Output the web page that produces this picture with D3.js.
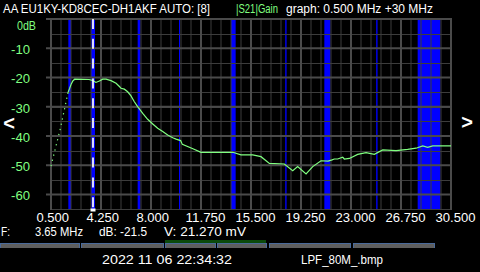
<!DOCTYPE html>
<html>
<head>
<meta charset="utf-8">
<script src="https://cdn.jsdelivr.net/npm/d3@7"></script>
<style>
  body { margin: 0; background: #000; }
  svg { display: block; }
  text { font-family: "Liberation Sans", Arial, sans-serif; }
</style>
</head>
<body>
<div id="chart"></div>
<script>
// S21 gain sweep (frequency in MHz, gain in dB)
var freq = [0.50, 1.20, 1.78, 1.90, 2.02, 2.15, 2.28, 3.35, 3.65, 3.87, 4.13, 4.38, 4.63,
            5.00, 5.38, 5.63, 5.75, 6.00, 6.25, 6.50, 6.75, 7.00, 7.38, 7.75, 8.13, 8.50,
            8.88, 9.25, 9.63, 9.88, 10.22, 10.35, 11.10, 11.75, 12.63, 14.13, 14.75,
            15.63, 16.25, 16.88, 18.00, 18.63, 19.00, 19.63, 20.13, 20.75, 21.28, 21.58,
            21.75, 22.00, 22.38, 22.50, 22.88, 23.50, 24.13, 24.75, 25.38, 26.38, 27.25,
            27.88, 28.38, 28.75, 29.13, 29.38, 30.50];
var gain = [-50.3, -37.5, -25.1, -23.7, -22.2, -21.1, -20.6, -20.7, -21.1, -21.7, -21.2,
            -20.6, -20.6, -21.1, -22.0, -23.1, -23.7, -24.0, -24.9, -26.3, -28.3, -30.0,
            -32.3, -34.3, -35.9, -37.4, -38.5, -39.7, -40.6, -41.1, -41.6, -42.9, -44.3,
            -45.6, -45.6, -45.6, -46.5, -46.5, -47.1, -49.4, -49.6, -51.9, -50.5, -53.0,
            -50.5, -48.5, -48.6, -48.2, -47.9, -47.9, -47.3, -47.9, -47.7, -46.3, -45.7,
            -46.3, -44.8, -45.0, -44.6, -44.2, -43.4, -43.9, -43.4, -43.4, -43.4];
var dottedUntil = 2; // the steep start is only drawn as loose dots

// amateur band segments shaded in blue (MHz)
var bandLo = [1.8, 3.5, 7.0, 10.1, 14.0, 18.068, 21.0, 24.89, 28.0];
var bandHi = [2.0, 3.8, 7.2, 10.15, 14.35, 18.168, 21.45, 24.99, 29.7];

var xTicks = [0.5, 4.25, 8, 11.75, 15.5, 19.25, 23, 26.75, 30.5];
var xLabels = ["0.500", "4.250", "8.000", "11.750", "15.500", "19.250", "23.000", "26.750", "30.500"];
var yTicks = [0, -10, -20, -30, -40, -50, -60];
var yLabels = ["0dB", "-10", "-20", "-30", "-40", "-50", "-60"];

var markerFreq = 3.65;
var markerText = ["F:", "3.65 MHz", "dB: -21.5", "V: 21.270 mV"];

var W = 480, H = 272;
var svg = d3.select("#chart").append("svg")
    .attr("width", W)
    .attr("height", H)
    .style("background", "#000");

var x = d3.scaleLinear().domain([0.5, 30.5]).range([51, 451]);
var y = d3.scaleLinear().domain([0, -65]).range([19, 209]);

var green = "#80ff80";

// the screen font is narrower than anything installed, so squeeze to measured widths
function label(sel, px, len) {
  sel.style("font-size", px + "px");
  if (len) sel.attr("textLength", len).attr("lengthAdjust", "spacingAndGlyphs");
  return sel;
}

// band shading
svg.append("g").selectAll("rect")
  .data(bandLo)
  .enter().append("rect")
    .attr("x", function(d) { return x(d); })
    .attr("y", y(0))
    .attr("width", function(d, i) { return Math.max(1, x(bandHi[i]) - x(d)); })
    .attr("height", y(-65) - y(0))
    .attr("fill", "#0000ff");

// minor grid: every 0.75 MHz and every 5 dB
var grid = svg.append("g");
grid.selectAll("line.vmin")
  .data(d3.range(0, 41).map(function(i) { return 0.5 + i * 0.75; }))
  .enter().append("line")
    .attr("x1", function(d) { return x(d); })
    .attr("x2", function(d) { return x(d); })
    .attr("y1", y(0)).attr("y2", y(-65))
    .attr("stroke", "#3c3c3c").attr("stroke-width", 1);
grid.selectAll("line.hmin")
  .data(d3.range(0, 14).map(function(i) { return -5 * i; }))
  .enter().append("line")
    .attr("x1", x(0.5)).attr("x2", x(30.5) + 1)
    .attr("y1", function(d) { return Math.round(y(d)) + 0.5; })
    .attr("y2", function(d) { return Math.round(y(d)) + 0.5; })
    .attr("stroke", "#3c3c3c").attr("stroke-width", 1);

// major grid
grid.selectAll("line.vmaj")
  .data(xTicks)
  .enter().append("line")
    .attr("x1", function(d) { return x(d); })
    .attr("x2", function(d) { return x(d); })
    .attr("y1", y(0) - 1).attr("y2", y(-65) + 1)
    .attr("stroke", "#4a4a4a").attr("stroke-width", 2);
grid.selectAll("line.hmaj")
  .data(yTicks)
  .enter().append("line")
    .attr("x1", x(0.5) - 5).attr("x2", x(30.5) + 1)
    .attr("y1", function(d) { return y(d); })
    .attr("y2", function(d) { return y(d); })
    .attr("stroke", "#4a4a4a").attr("stroke-width", 2);

// gain curve
var pts = freq.map(function(f, i) { return [f, gain[i]]; });
var line = d3.line()
    .x(function(d) { return x(d[0]); })
    .y(function(d) { return y(d[1]); });

svg.append("path")
    .datum(pts.slice(0, dottedUntil + 1))
    .attr("d", line)
    .attr("fill", "none")
    .attr("stroke", green)
    .attr("stroke-width", 1.2)
    .attr("stroke-dasharray", "1.3 4");

svg.append("path")
    .datum(pts.slice(dottedUntil))
    .attr("d", line)
    .attr("fill", "none")
    .attr("stroke", green)
    .attr("stroke-width", 1.2);

// marker
svg.append("line")
    .attr("x1", x(markerFreq)).attr("x2", x(markerFreq))
    .attr("y1", y(0)).attr("y2", y(-65))
    .attr("stroke", "#fff")
    .attr("stroke-width", 1.7)
    .attr("stroke-dasharray", "10 9.8");
svg.append("rect")
    .attr("x", x(markerFreq) - 2.5).attr("y", y(-65) - 0.5)
    .attr("width", 5).attr("height", 3)
    .attr("fill", "#fff");

// axis labels
svg.append("g").selectAll("text")
  .data(yTicks)
  .enter().append("text")
    .attr("x", function(d, i) { return i == 0 ? 17 : 11; })
    .attr("y", function(d, i) { return i == 0 ? y(d) + 8 : y(d) + 2.5; })
    .attr("dominant-baseline", "middle")
    .attr("fill", green)
    .call(label, 13, 19)
    .text(function(d, i) { return yLabels[i]; });

svg.append("g").selectAll("text")
  .data(xTicks)
  .enter().append("text")
    .attr("x", function(d, i) { return x(d) - (i < 3 ? 14.5 : 15.5); })
    .attr("y", 219)
    .attr("dominant-baseline", "middle")
    .attr("fill", "#fff")
    .style("font-size", "13px")
    .attr("textLength", function(d, i) { return xLabels[i].length > 5 ? 40 : 32.5; })
    .attr("lengthAdjust", "spacingAndGlyphs")
    .text(function(d, i) { return xLabels[i]; });

// header
svg.append("text").attr("x", 3).attr("y", 13)
    .attr("fill", "#fff").call(label, 12.5, 207)
    .text("AA EU1KY-KD8CEC-DH1AKF AUTO: [8]");
svg.append("text").attr("x", 236).attr("y", 13)
    .attr("fill", green).call(label, 12, 42)
    .text("|S21|Gain");
svg.append("text").attr("x", 286).attr("y", 13)
    .attr("fill", "#fff").call(label, 12.5, 147)
    .text("graph: 0.500 MHz +30 MHz");

// scroll arrows
svg.append("text").attr("x", 9).attr("y", 125)
    .attr("text-anchor", "middle").attr("dominant-baseline", "middle")
    .attr("fill", "#fff").style("font-size", "20px").style("font-weight", "bold")
    .text("<");
svg.append("text").attr("x", 467).attr("y", 124)
    .attr("text-anchor", "middle").attr("dominant-baseline", "middle")
    .attr("fill", "#fff").style("font-size", "20px").style("font-weight", "bold")
    .text(">");

// marker readout
var readX = [1, 35, 99, 164];
var readW = [9, 48, 48, 82];
svg.append("g").selectAll("text")
  .data(markerText)
  .enter().append("text")
    .attr("x", function(d, i) { return readX[i]; })
    .attr("y", 233)
    .attr("dominant-baseline", "middle")
    .attr("fill", "#fff")
    .style("font-size", "13px")
    .attr("textLength", function(d, i) { return readW[i]; })
    .attr("lengthAdjust", "spacingAndGlyphs")
    .text(function(d) { return d; });

// clipped button strip
var btnX = [0, 81, 165, 217, 269, 353];
var btnW = [80, 83, 51, 50, 82, 82];
svg.append("rect").attr("x", 165).attr("y", 240).attr("width", 101).attr("height", 3).attr("fill", "#0b4a0b");
svg.append("g").selectAll("rect")
  .data(btnX)
  .enter().append("rect")
    .attr("x", function(d) { return d + 0.5; })
    .attr("y", 243.5)
    .attr("width", function(d, i) { return btnW[i] - 1; })
    .attr("height", 5)
    .attr("fill", "#5e5e5e")
    .attr("stroke", "#4a6a9a")
    .attr("stroke-width", 1);
svg.append("rect").attr("x", 0).attr("y", 248).attr("width", W).attr("height", 24).attr("fill", "#000");

// footer
svg.append("text").attr("x", 102).attr("y", 261)
    .attr("dominant-baseline", "middle")
    .attr("fill", "#fff").call(label, 13, 130)
    .text("2022 11 06 22:34:32");
svg.append("text").attr("x", 301).attr("y", 261)
    .attr("dominant-baseline", "middle")
    .attr("fill", "#fff").call(label, 13, 82)
    .text("LPF_80M_.bmp");
</script>
</body>
</html>
